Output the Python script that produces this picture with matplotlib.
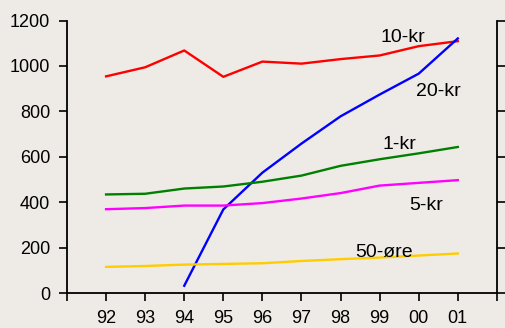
import numpy as np
import matplotlib.pyplot as plt

plt.rcParams['font.family'] = ['Liberation Sans', 'DejaVu Sans']

years = ['92', '93', '94', '95', '96', '97', '98', '99', '00', '01']
kr10 = [954, 994, 1068, 952, 1019, 1010, 1030, 1046, 1087, 1109]
kr20 = [None, None, 32, 368, 530, 658, 778, 874, 966, 1121]
kr1 = [434, 437, 460, 469, 490, 517, 560, 589, 615, 643]
kr5 = [369, 374, 385, 385, 396, 416, 440, 473, 485, 497]
ore50 = [115, 119, 125, 128, 131, 141, 149, 156, 165, 174]

bg = '#eeebe6'
x = np.arange(len(years))

fig = plt.figure(figsize=(5.06, 3.28), dpi=100, facecolor=bg)
ax = fig.add_axes([0.1324, 0.1067, 0.8496, 0.8308])
ax.set_facecolor(bg)

lw = 1.7
ax.plot(x, kr10, color='#ff0000', lw=lw)
x20 = [i for i, v in enumerate(kr20) if v is not None]
ax.plot(x20, [kr20[i] for i in x20], color='#0000ff', lw=lw)
ax.plot(x, kr1, color='#008000', lw=lw)
ax.plot(x, kr5, color='#ff00ff', lw=lw)
ax.plot(x, ore50, color='#ffcc00', lw=lw)

# line labels
fs_lab = 14
ax.text(7.6, 1127, '10-kr', fontsize=fs_lab, ha='center', va='center')
ax.text(8.5, 887, '20-kr', fontsize=fs_lab, ha='center', va='center')
ax.text(7.5, 653, '1-kr', fontsize=fs_lab, ha='center', va='center')
ax.text(8.2, 384, '5-kr', fontsize=fs_lab, ha='center', va='center')
ax.text(7.1, 177, '50-øre', fontsize=fs_lab, ha='center', va='center')

ax.set_xlim(-1, 10)
ax.set_ylim(0, 1200)
ax.set_xticks(np.arange(-1, 11))
ax.set_xticklabels([''] + years + [''])
ax.set_yticks(np.arange(0, 1201, 200))

for s in ['left', 'right', 'bottom']:
    ax.spines[s].set_linewidth(1.3)
ax.spines['top'].set_visible(False)
ax.tick_params(axis='both', length=6, width=1.2, labelsize=13, colors='black')
ax.tick_params(axis='x', pad=6)
ax.tick_params(axis='y', right=True, labelright=False, pad=6)

fig.savefig('out.png', dpi=100, facecolor=bg)
